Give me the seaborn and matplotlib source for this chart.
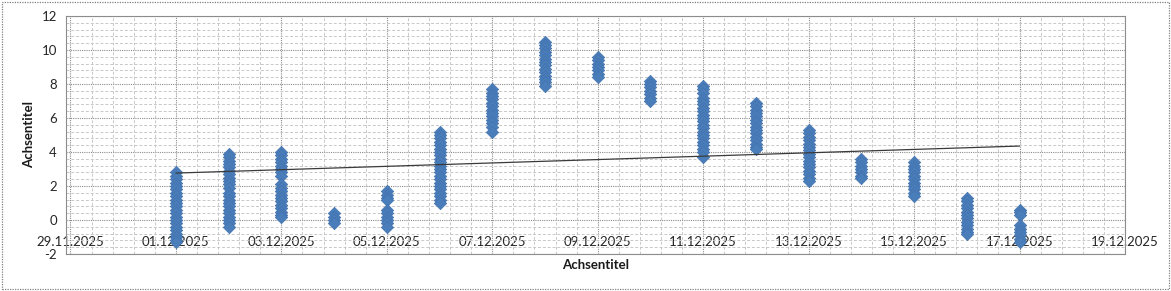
import numpy as np
import pandas as pd
import matplotlib
matplotlib.use("Agg")
import matplotlib.pyplot as plt
import matplotlib.dates as mdates
from matplotlib.ticker import FixedLocator, MultipleLocator
from matplotlib.patches import Rectangle
import seaborn as sns

# ---- data ----
day_labels = ["01.12.2025", "02.12.2025", "03.12.2025", "04.12.2025", "05.12.2025",
              "06.12.2025", "07.12.2025", "08.12.2025", "09.12.2025", "10.12.2025",
              "11.12.2025", "12.12.2025", "13.12.2025", "14.12.2025", "15.12.2025",
              "16.12.2025", "17.12.2025"]
v01 = [2.8, 2.6, 2.4, 2.2, 2.0, 1.8, 1.6, 1.4, 1.2, 1.0, 0.8, 0.6, 0.4, 0.2, 0.0,
       -0.2, -0.4, -0.6, -0.8, -1.0, -1.2, -1.3]
v02 = [3.9, 3.7, 3.5, 3.3, 3.1, 2.9, 2.7, 2.5, 2.3, 2.1, 1.9, 1.6, 1.4, 1.2, 1.0,
       0.8, 0.6, 0.4, 0.2, 0.0, -0.2, -0.4]
v03 = [4.0, 3.8, 3.6, 3.4, 3.2, 3.0, 2.8, 2.6, 2.1, 1.9, 1.7, 1.5, 1.3, 1.1, 0.9,
       0.7, 0.5, 0.3, 0.2]
v04 = [0.4, 0.2, 0.0, -0.2]
v05 = [1.7, 1.5, 1.3, 1.2, 0.6, 0.4, 0.2, 0.0, -0.2, -0.4]
v06 = [5.2, 5.0, 4.8, 4.6, 4.4, 4.2, 4.0, 3.8, 3.6, 3.4, 3.2, 3.0, 2.8, 2.6, 2.4,
       2.2, 2.0, 1.8, 1.6, 1.4, 1.2, 1.0]
v07 = [7.7, 7.5, 7.3, 7.1, 6.9, 6.7, 6.5, 6.3, 6.1, 5.9, 5.7, 5.5, 5.2]
v08 = [10.5, 10.3, 10.1, 9.9, 9.7, 9.5, 9.3, 9.1, 8.9, 8.7, 8.5, 8.3, 8.1, 7.9]
v09 = [9.6, 9.4, 9.2, 9.0, 8.8, 8.6, 8.4]
v10 = [8.2, 8.0, 7.8, 7.6, 7.4, 7.2, 7.0]
v11 = [7.9, 7.7, 7.5, 7.2, 7.0, 6.8, 6.6, 6.4, 6.2, 6.0, 5.8, 5.6, 5.4, 5.2, 5.0,
       4.8, 4.6, 4.4, 4.2, 4.0, 3.7]
v12 = [6.9, 6.7, 6.5, 6.3, 6.1, 5.9, 5.7, 5.5, 5.3, 5.1, 4.9, 4.7, 4.5, 4.3, 4.2]
v13 = [5.3, 5.1, 4.9, 4.7, 4.5, 4.3, 4.1, 3.9, 3.7, 3.5, 3.3, 3.1, 2.9, 2.7, 2.5, 2.3]
v14 = [3.6, 3.4, 3.2, 3.0, 2.8, 2.6, 2.5]
v15 = [3.4, 3.2, 3.0, 2.8, 2.6, 2.4, 2.2, 2.0, 1.8, 1.6, 1.4]
v16 = [1.3, 1.1, 0.9, 0.7, 0.5, 0.3, 0.1, -0.1, -0.3, -0.5, -0.7, -0.8]
v17 = [0.6, 0.45, 0.3, -0.3, -0.5, -0.7, -0.9, -1.1, -1.3]
day_values = [v01, v02, v03, v04, v05, v06, v07, v08, v09, v10,
              v11, v12, v13, v14, v15, v16, v17]

# linear trend line (as shown in the reference)
trend_dates = ["01.12.2025", "17.12.2025"]
trend_values = [2.76, 4.35]

x_tick_labels = ["29.11.2025", "01.12.2025", "03.12.2025", "05.12.2025", "07.12.2025",
                 "09.12.2025", "11.12.2025", "13.12.2025", "15.12.2025", "17.12.2025",
                 "19.12.2025"]
y_ticks = [-2, 0, 2, 4, 6, 8, 10, 12]
x_title = "Achsentitel"
y_title = "Achsentitel"

# ---- build table ----
rows = []
for d, vals in zip(day_labels, day_values):
    for v in vals:
        rows.append((pd.to_datetime(d, format="%d.%m.%Y"), v))
df = pd.DataFrame(rows, columns=["Datum", "Wert"])
trend_df = pd.DataFrame({"Datum": pd.to_datetime(trend_dates, format="%d.%m.%Y"),
                         "Wert": trend_values})

sns.set_style("white")
plt.rcParams["font.family"] = ["Lato", "DejaVu Sans"]
plt.rcParams["axes.unicode_minus"] = False

W, H = 1171, 291
fig = plt.figure(figsize=(W / 100, H / 100), dpi=100)
ax = fig.add_axes([66 / W, 1 - 254 / H, (1125 - 66) / W, (254 - 16) / H])

sns.scatterplot(data=df, x="Datum", y="Wert", marker="D", s=40,
                color="#4a7ebb", edgecolor="#4272ad", linewidth=0.5, ax=ax, zorder=3)
sns.lineplot(data=trend_df, x="Datum", y="Wert", color="#3a3a3a", linewidth=0.9,
             ax=ax, zorder=4)

tick_dates = pd.to_datetime(x_tick_labels, format="%d.%m.%Y")
tick_nums = mdates.date2num(tick_dates)
ax.set_xlim(tick_nums[0] - 0.085, tick_nums[-1])
ax.set_ylim(y_ticks[0], y_ticks[-1])

ax.xaxis.set_major_locator(FixedLocator(tick_nums))
ax.set_xticklabels(x_tick_labels)
ax.xaxis.set_minor_locator(FixedLocator(np.arange(tick_nums[0], tick_nums[-1] + 0.01, 0.4)))
ax.set_yticks(y_ticks)
ax.yaxis.set_minor_locator(MultipleLocator(0.4))

ax.grid(which="major", color="#8c8c8c", linestyle=(0, (1, 1)), linewidth=0.8, zorder=0)
ax.grid(which="minor", color="#c8c8c8", linestyle=(0, (3, 2)), linewidth=0.7, zorder=0)
ax.set_axisbelow(True)

ax.tick_params(axis="both", which="both", length=0, labelsize=9.5, labelcolor="#262626")
ax.tick_params(axis="x", pad=-13)
ax.tick_params(axis="y", pad=6.5)

for side in ["left", "right", "top", "bottom"]:
    ax.spines[side].set_visible(True)
    ax.spines[side].set_color("#8c8c8c")
    ax.spines[side].set_linestyle((0, (1, 1)))
    ax.spines[side].set_linewidth(0.8)

ax.set_xlabel(x_title, fontsize=9.5, fontweight="bold", color="#1a1a1a")
ax.set_ylabel(y_title, fontsize=9.5, fontweight="bold", color="#1a1a1a")
ax.xaxis.set_label_coords(0.5, -0.02)
ax.yaxis.set_label_coords(-0.029, 0.5)

fig.patches.append(Rectangle((1.5 / W, 2 / H), (W - 3.5) / W, (H - 3.5) / H,
                             transform=fig.transFigure, fill=False,
                             edgecolor="#808080", linestyle=(0, (1, 1)), linewidth=0.9))

fig.savefig("out.png", dpi=100)
